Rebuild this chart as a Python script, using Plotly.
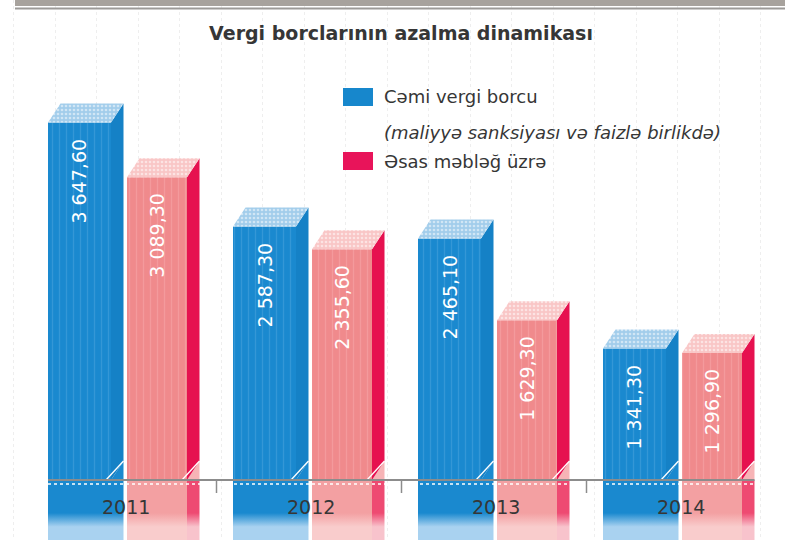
import plotly.graph_objects as go

# ---------------- data ----------------
years = ["2011", "2012", "2013", "2014"]
total_debt = [3647.60, 2587.30, 2465.10, 1341.30]   # Cəmi vergi borcu
principal = [3089.30, 2355.60, 1629.30, 1296.90]    # Əsas məbləğ üzrə

title_text = "Vergi borclarının azalma dinamikası"
legend_total = "Cəmi vergi borcu"
legend_total_note = "(maliyyə sanksiyası və faizlə birlikdə)"
legend_principal = "Əsas məbləğ üzrə"

# ---------------- geometry / style ----------------
W, H = 785, 540
PX_PER_GROUP = 185.0
GROUP0_PX = 124.0
PX_PER_UNIT = 0.098
BASE_PX = 480.0

X_MIN = (0 - GROUP0_PX) / PX_PER_GROUP
X_MAX = (W - GROUP0_PX) / PX_PER_GROUP
Y_MAX = BASE_PX / PX_PER_UNIT
Y_MIN = -(H - BASE_PX) / PX_PER_UNIT

BLUE_LEFT = (48 - GROUP0_PX) / PX_PER_GROUP
BLUE_W = 63 / PX_PER_GROUP
PINK_LEFT = (127 - GROUP0_PX) / PX_PER_GROUP
PINK_W = 60 / PX_PER_GROUP
DX = 12.5 / PX_PER_GROUP
DY = 19 / PX_PER_UNIT

FONT = "DejaVu Sans"
TEXT_COLOR = "#363636"

series = [
    dict(name=legend_total, values=total_debt, left=BLUE_LEFT, width=BLUE_W,
         front="#1a89cf", stripe="#4ea6de", side="#1581c6", top="#a2cdeb",
         refl_top="#1a89cf", refl_bot="#a9d2f0", refl_side_top="#1a89cf",
         refl_side_bot="#a9d2f0", under="#1a89cf"),
    dict(name=legend_principal, values=principal, left=PINK_LEFT, width=PINK_W,
         front="#f08a8c", stripe="#f7aaab", side="#e6114f", top="#f9c6c6",
         refl_top="#f3a0a2", refl_bot="#f9cccc", refl_side_top="#ee4a72",
         refl_side_bot="#f8c3cc", under="#f7b4b6"),
]


def fmt(v):
    return f"{v:,.2f}".replace(",", " ").replace(".", ",")


fig = go.Figure()

# reflections below the baseline
for s in series:
    for i, v in enumerate(s["values"]):
        xl = i + s["left"]
        xr = xl + s["width"]
        fig.add_trace(go.Scatter(
            x=[xl, xr, xr, xl, xl], y=[0, 0, Y_MIN, Y_MIN, 0],
            mode="lines", line=dict(width=0), fill="toself",
            fillgradient=dict(type="vertical",
                              colorscale=[[0, s["refl_bot"]], [0.22, s["refl_bot"]],
                                          [0.45, s["refl_top"]], [1, s["refl_top"]]]),
            hoverinfo="skip", showlegend=False))
        fig.add_trace(go.Scatter(
            x=[xr, xr + DX, xr + DX, xr, xr], y=[0, 0, Y_MIN, Y_MIN, 0],
            mode="lines", line=dict(width=0), fill="toself",
            fillgradient=dict(type="vertical",
                              colorscale=[[0, s["refl_side_bot"]], [0.22, s["refl_side_bot"]],
                                          [0.45, s["refl_side_top"]], [1, s["refl_side_top"]]]),
            hoverinfo="skip", showlegend=False))

# front faces
for s in series:
    fig.add_trace(go.Bar(
        x=[i + s["left"] + s["width"] / 2 for i in range(len(years))],
        y=s["values"], width=s["width"], name=s["name"],
        marker=dict(color=s["front"], line=dict(width=0),
                    pattern=dict(shape="|", fgcolor=s["stripe"], size=7,
                                 solidity=0.18, fillmode="overlay")),
        hoverinfo="skip", showlegend=False))

# side and top faces
for s in series:
    for i, v in enumerate(s["values"]):
        xl = i + s["left"]
        xr = xl + s["width"]
        fig.add_trace(go.Scatter(
            x=[xr, xr + DX, xr + DX, xr], y=[0, 0, DY, 0],
            mode="lines", line=dict(width=0), fill="toself", fillcolor=s["under"],
            hoverinfo="skip", showlegend=False))
        fig.add_trace(go.Scatter(
            x=[xr, xr + DX, xr + DX, xr, xr], y=[0, DY, v + DY, v, 0],
            mode="lines", line=dict(width=0), fill="toself", fillcolor=s["side"],
            hoverinfo="skip", showlegend=False))
        fig.add_trace(go.Scatter(
            x=[xl, xr, xr + DX, xl + DX, xl], y=[v, v, v + DY, v + DY, v],
            mode="lines", line=dict(width=0), fill="toself", fillcolor=s["top"],
            fillpattern=dict(shape=".", fgcolor="#ffffff", size=4, solidity=0.35,
                             fillmode="overlay"),
            hoverinfo="skip", showlegend=False))
        fig.add_trace(go.Scatter(
            x=[xr - DX * 0.4, xr + DX], y=[0, DY], mode="lines",
            line=dict(color="#ffffff", width=1.3),
            hoverinfo="skip", showlegend=False))

# value labels
annotations = []
for s in series:
    for i, v in enumerate(s["values"]):
        annotations.append(dict(
            x=i + s["left"] + s["width"] / 2, y=v, xref="x", yref="y",
            text=fmt(v), textangle=-90, showarrow=False,
            yanchor="top", xanchor="center", yshift=-14,
            font=dict(family=FONT, size=19, color="#ffffff")))

# year labels
for i, yr in enumerate(years):
    annotations.append(dict(
        x=i + 0.01, y=0, xref="x", yref="y", text=yr, showarrow=False,
        yanchor="middle", xanchor="center", yshift=-27,
        font=dict(family=FONT, size=19, color=TEXT_COLOR)))


def px_x(p):
    return p / W


def px_y(p):
    return 1 - p / H


annotations += [
    dict(x=px_x(382), y=px_y(97), xref="paper", yref="paper", text=legend_total,
         showarrow=False, xanchor="left", yanchor="middle",
         font=dict(family=FONT, size=18, color=TEXT_COLOR)),
    dict(x=px_x(382), y=px_y(132), xref="paper", yref="paper",
         text="<i>" + legend_total_note + "</i>",
         showarrow=False, xanchor="left", yanchor="middle",
         font=dict(family=FONT, size=18, color=TEXT_COLOR)),
    dict(x=px_x(382), y=px_y(161), xref="paper", yref="paper", text=legend_principal,
         showarrow=False, xanchor="left", yanchor="middle",
         font=dict(family=FONT, size=18, color=TEXT_COLOR)),
]

shapes = [
    dict(type="rect", xref="paper", yref="paper", x0=px_x(15), x1=1,
         y0=px_y(0), y1=px_y(6), fillcolor="#a7a29d", line=dict(width=0)),
    dict(type="line", xref="paper", yref="paper", x0=px_x(15), x1=1,
         y0=px_y(8.5), y1=px_y(8.5), line=dict(color="#9c9a98", width=2)),
    dict(type="rect", xref="paper", yref="paper", x0=px_x(343), x1=px_x(373),
         y0=px_y(88), y1=px_y(106), fillcolor="#1787cc", line=dict(width=0)),
    dict(type="rect", xref="paper", yref="paper", x0=px_x(343), x1=px_x(373),
         y0=px_y(152), y1=px_y(170), fillcolor="#e8145a", line=dict(width=0)),
    dict(type="line", xref="x", yref="y", x0=BLUE_LEFT,
         x1=len(years) - 1 + PINK_LEFT + PINK_W + DX,
         y0=-40, y1=-40, line=dict(color="#ffffff", width=1.5, dash="dot"), layer="above"),
    dict(type="line", xref="x", yref="y", x0=BLUE_LEFT,
         x1=len(years) - 1 + PINK_LEFT + PINK_W + DX,
         y0=0, y1=0, line=dict(color="#8c8c8c", width=2), layer="above"),
]
for i in range(len(years) - 1):
    shapes.append(dict(type="line", xref="x", yref="y", x0=i + 0.5, x1=i + 0.5,
                       y0=0, y1=-13 / PX_PER_UNIT,
                       line=dict(color="#8c8c8c", width=1.5), layer="above"))

fig.update_layout(
    width=W, height=H,
    margin=dict(l=0, r=0, t=0, b=0),
    paper_bgcolor="#ffffff", plot_bgcolor="#ffffff",
    barmode="overlay",
    title=dict(text="<b>" + title_text + "</b>", x=401 / W, xanchor="center",
               y=1 - 33 / H, yanchor="middle",
               font=dict(family=FONT, size=19, color=TEXT_COLOR)),
    xaxis=dict(range=[X_MIN, X_MAX], showticklabels=False, zeroline=False,
               showgrid=True, gridcolor="#eeeeee", griddash="dot", gridwidth=1,
               tick0=(55 - GROUP0_PX) / PX_PER_GROUP, dtick=41.5 / PX_PER_GROUP,
               fixedrange=True),
    yaxis=dict(range=[Y_MIN, Y_MAX], showticklabels=False, showgrid=False,
               zeroline=False, fixedrange=True),
    annotations=annotations,
    shapes=shapes,
    showlegend=False,
)

fig.write_html("out.html", config={"displayModeBar": False},
               post_script="document.body.style.margin='0';")
